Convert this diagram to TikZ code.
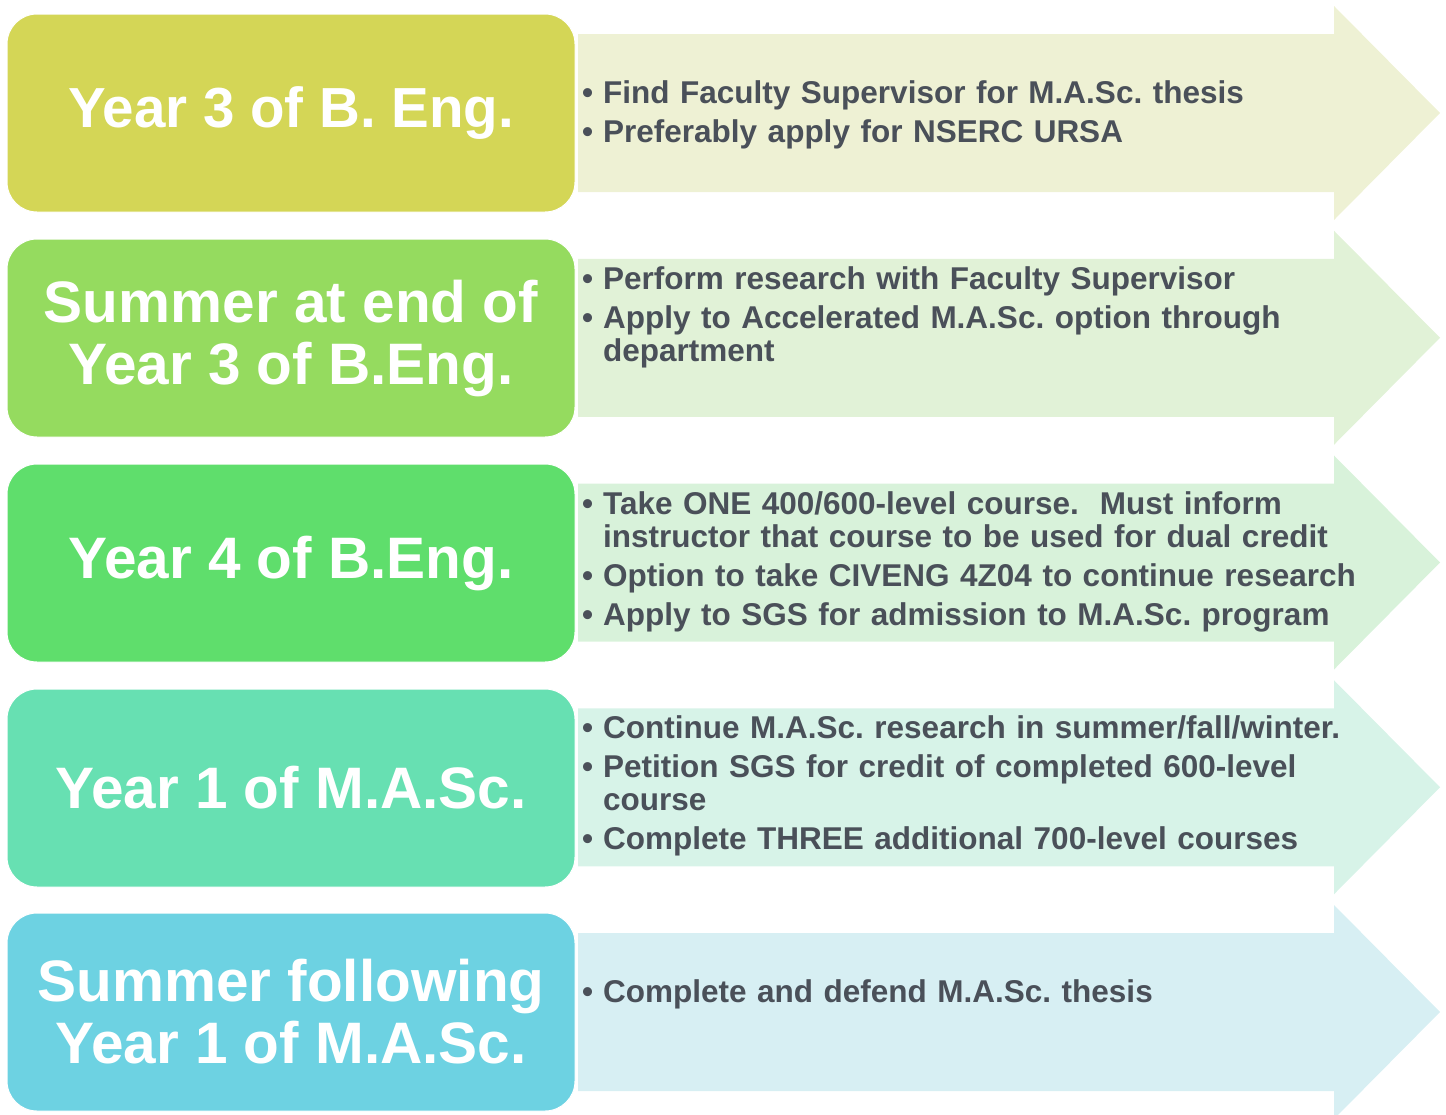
\documentclass[tikz,border=0pt]{standalone}
\usepackage{fontspec}
\setmainfont{Liberation Sans}
\usetikzlibrary{positioning}

\definecolor{boxA}{HTML}{D4D656}
\definecolor{boxB}{HTML}{95DB5F}
\definecolor{boxC}{HTML}{5FDE6C}
\definecolor{boxD}{HTML}{67E0B2}
\definecolor{boxE}{HTML}{6DD2E2}
\definecolor{arrA}{HTML}{EEF1D4}
\definecolor{arrB}{HTML}{E1F2D7}
\definecolor{arrC}{HTML}{D8F2DA}
\definecolor{arrD}{HTML}{D7F3E8}
\definecolor{arrE}{HTML}{D7EFF3}
\definecolor{txt}{HTML}{4A5059}

\frenchspacing
\newcommand\bul[1]{\hangindent=21pt\hangafter=1\noindent\makebox[21pt][l]{\textbullet}\strut#1\par}

\tikzset{
  stage/.style={rounded corners=30pt, minimum width=568pt, minimum height=198pt,
    inner sep=0pt, text=white, draw=white, line width=1pt, align=center,
    font=\bfseries\fontsize{58.5}{62}\selectfont},
  steps/.style={anchor=north west, inner sep=0pt, text width=860pt, text=txt,
    align=left, font=\bfseries\fontsize{31.5}{33}\selectfont,
    execute at begin node={\setlength\parskip{6pt}}}
}

\begin{document}
\begin{tikzpicture}[x=1pt,y=-1pt]

  \useasboundingbox (0,0) rectangle (1446,1114);

  % arrows behind the text
  \foreach \c [count=\i from 0] in {arrA,arrB,arrC,arrD,arrE}{
    \pgfmathsetmacro\t{14+224.75*\i}
    \fill[\c] (578,{\t+20}) -- (1334,{\t+20}) -- (1334,{\t-8}) -- (1440,{\t+99})
      -- (1334,{\t+206}) -- (1334,{\t+178}) -- (578,{\t+178}) -- cycle;
  }

  % stages
  \node[stage, fill=boxA, font=\bfseries\fontsize{56.5}{62}\selectfont] (y3) at (291,113) {Year 3 of B. Eng.};
  \node[stage, fill=boxB] (sum3) at (291,338)  {Summer at end of\\Year 3 of B.Eng.};
  \node[stage, fill=boxC] (y4)   at (291,563)  {Year 4 of B.Eng.};
  \node[stage, fill=boxD] (m1)   at (291,788)  {Year 1 of M.A.Sc.};
  \node[stage, fill=boxE] (sum1) at (291,1012) {Summer following\\Year 1 of M.A.Sc.};

  % what to do
  \node[steps] (y3text) at (582,80) {%
    \bul{Find Faculty Supervisor for M.A.Sc. thesis}
    \bul{Preferably apply for NSERC URSA}};
  \node[steps] (sum3text) at (582,266) {%
    \bul{Perform research with Faculty Supervisor}
    \bul{Apply to Accelerated M.A.Sc. option through\newline department}};
  \node[steps] (y4text) at (582,491) {%
    \bul{Take ONE 400/600-level course.\ \ Must inform\newline instructor that course to be used for dual credit}
    \bul{Option to take CIVENG 4Z04 to continue research}
    \bul{Apply to SGS for admission to M.A.Sc. program}};
  \node[steps] (m1text) at (582,715) {%
    \bul{Continue M.A.Sc. research in summer/fall/winter.}
    \bul{Petition SGS for credit of completed 600-level\newline course}
    \bul{Complete THREE additional 700-level courses}};
  \node[steps] (sum1text) at (582,979) {%
    \bul{Complete and defend M.A.Sc. thesis}};

\end{tikzpicture}
\end{document}
